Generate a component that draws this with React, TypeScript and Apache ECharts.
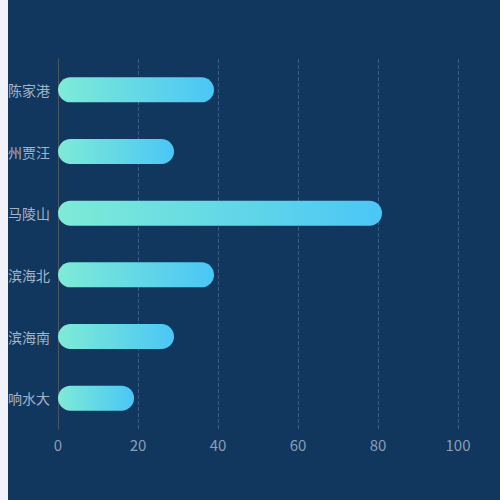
import React, { useEffect, useRef } from "react";
import * as echarts from "echarts";

// categories listed bottom -> top (ECharts category y axis starts at the bottom)
const stations = ["三峡响水大", "国电滨海南", "国电滨海北", "东海马陵山", "徐州贾汪", "大唐陈家港"];
const values = [19, 29, 39, 81, 29, 39];
const xTicks = [0, 20, 40, 60, 80, 100];

const App = () => {
  const chartRef = useRef<HTMLDivElement | null>(null);

  useEffect(() => {
    if (!chartRef.current) return;
    const chart = echarts.init(chartRef.current, undefined, { renderer: "svg" });

    const options = {
      animation: false,
      backgroundColor: "#11375f",
      textStyle: { fontFamily: "Noto Sans CJK SC" },
      grid: {
        left: 50,
        right: 42,
        top: 59,
        bottom: 71,
        containLabel: false,
        outerBoundsMode: "none",
      },
      xAxis: {
        type: "value",
        min: xTicks[0],
        max: xTicks[xTicks.length - 1],
        interval: 20,
        axisLine: { show: false },
        axisTick: { show: false },
        axisLabel: { color: "#8a9db5", fontSize: 15, margin: 8 },
        splitLine: {
          show: true,
          lineStyle: { color: "#3b5d84", type: "dashed", width: 1 },
        },
      },
      yAxis: {
        type: "category",
        data: stations,
        axisLine: { show: true, lineStyle: { color: "#4a5563", width: 1 } },
        axisTick: { show: false },
        axisLabel: { color: "#a3b3c7", fontSize: 14, margin: 8 },
        splitLine: { show: false },
      },
      series: [
        {
          type: "bar",
          data: values,
          barWidth: 25,
          itemStyle: {
            borderRadius: 12.5,
            color: new echarts.graphic.LinearGradient(0, 0, 1, 0, [
              { offset: 0, color: "#7eebd6" },
              { offset: 1, color: "#4bc6f6" },
            ]),
          },
        },
      ],
    };

    chart.setOption(options);
    return () => {
      chart.dispose();
    };
  }, []);

  return (
    <div style={{ position: "fixed", left: 0, top: 0, width: 500, height: 500, background: "#f1f3f8" }}>
      <div ref={chartRef} style={{ position: "absolute", left: 8, top: 0, width: 492, height: 500 }}></div>
    </div>
  );
};

export default App;
